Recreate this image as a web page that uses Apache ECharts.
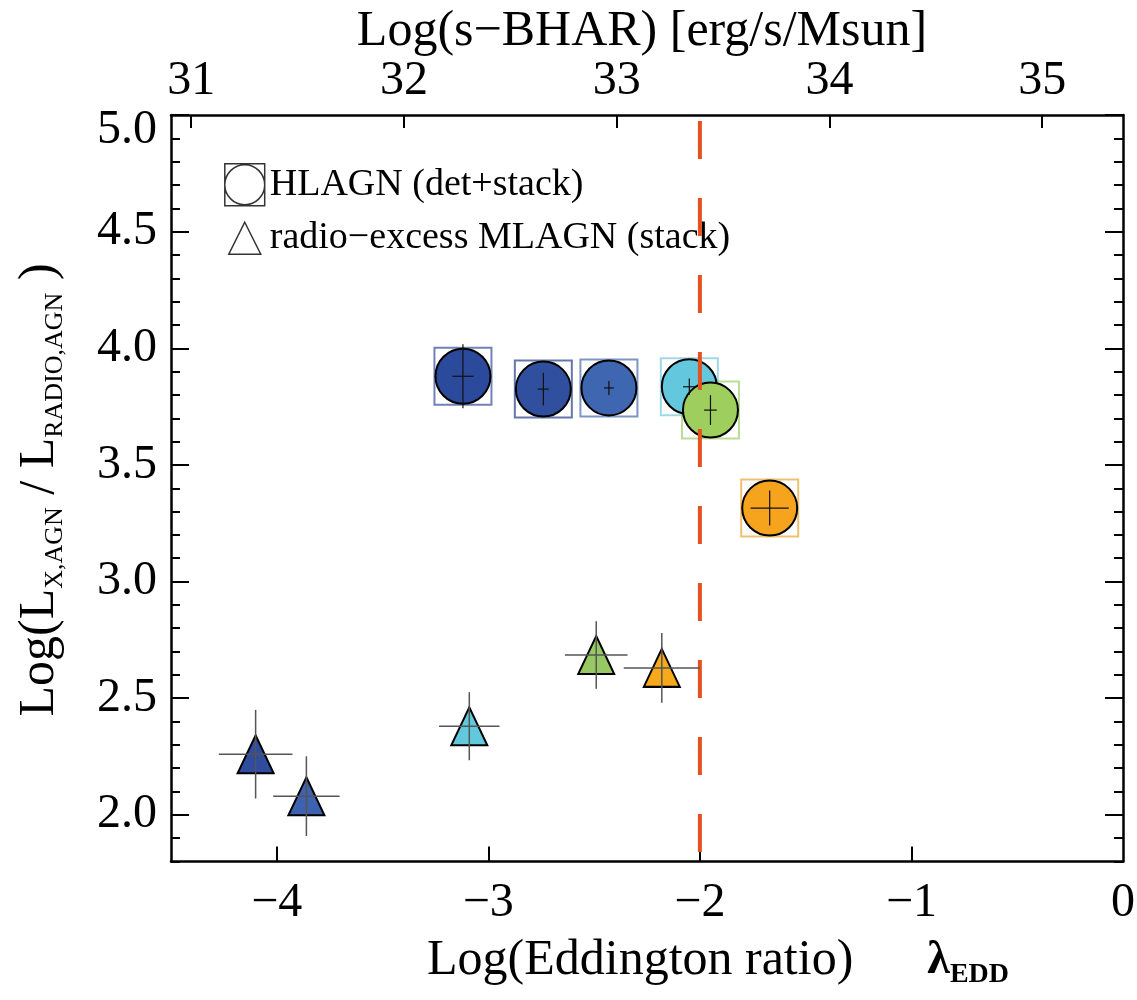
<!DOCTYPE html>
<html><head><meta charset="utf-8">
<script src="https://cdn.jsdelivr.net/npm/echarts@6/dist/echarts.min.js"></script>
<style>html,body{margin:0;padding:0;background:#fff}#c{width:1137px;height:1000px}</style>
</head><body><div id="c"></div><script>
const FONT = 'Liberation Serif';
// HLAGN (det+stack)
const hlagnLogEdd = [-3.12, -2.74, -2.43, -2.05, -1.95, -1.67];
const hlagnRatio  = [3.88, 3.825, 3.83, 3.835, 3.735, 3.315];
const hlagnErrX   = [0.05, 0.026, 0.023, 0.03, 0.03, 0.09];
const hlagnErrY   = [0.137, 0.07, 0.03, 0.035, 0.064, 0.075];
const hlagnFill   = ['#2c4a9c', '#30509f', '#3f67b1', '#63c7dd', '#9dce5e', '#f6a31d'];
const hlagnBox    = ['#4e62a2', '#3f5696', '#5b7cb6', '#86d0e2', '#a9d47c', '#eab24a'];
// radio-excess MLAGN (stack)
const mlagnLogEdd = [-4.10, -3.86, -3.09, -2.49, -2.18];
const mlagnRatio  = [2.26, 2.08, 2.38, 2.685, 2.63];
const mlagnErrX   = [0.174, 0.157, 0.143, 0.148, 0.18];
const mlagnErrY   = [0.19, 0.171, 0.146, 0.145, 0.149];
const mlagnFill   = ['#2f4c9e', '#3d62b0', '#62c8dc', '#96c964', '#f7a81b'];
// reference line
const eddLimit = -2;
// ticks
const xTickVals = [-4, -3, -2, -1];
const xLabelVals = [-4, -3, -2, -1, 0];
const topTickVals = [31, 32, 33, 34, 35];
const yTickVals = [2.0, 2.5, 3.0, 3.5, 4.0, 4.5, 5.0];

const HL_NAME = 'HLAGN (det+stack)';
const ML_NAME = 'radio\u2212excess MLAGN (stack)';
const black = '#000';
const lblStyle = {fontFamily: FONT, fontSize: 48, color: black};

function errRender(color, width) {
  return function (params, api) {
    const x = api.value(0), y = api.value(1), dx = api.value(2), dy = api.value(3);
    const a = api.coord([x - dx, y]), b = api.coord([x + dx, y]);
    const c = api.coord([x, y - dy]), d = api.coord([x, y + dy]);
    const st = {stroke: color, lineWidth: width};
    return {type: 'group', children: [
      {type: 'line', shape: {x1: a[0], y1: a[1], x2: b[0], y2: b[1]}, style: st},
      {type: 'line', shape: {x1: c[0], y1: c[1], x2: d[0], y2: d[1]}, style: st}
    ]};
  };
}

const chart = echarts.init(document.getElementById('c'), null, {renderer: 'canvas'});
const option = {
  animation: false,
  backgroundColor: '#fff',
  grid: {left: 171, right: 14, top: 115, bottom: 138.5, containLabel: false, outerBoundsMode: 'none'},
  xAxis: [
    {type: 'value', position: 'bottom', min: -4.5, max: 0,
      axisLine: {show: true, onZero: false, lineStyle: {color: black, width: 2.5}},
      axisTick: {show: true, inside: true, length: 15, customValues: xTickVals, lineStyle: {color: black, width: 2}},
      axisLabel: {show: true, customValues: xLabelVals, margin: 18, ...lblStyle,
        formatter: v => String(v).replace('-', '\u2212')},
      splitLine: {show: false}},
    {type: 'value', position: 'top', min: 30.905, max: 35.38,
      axisLine: {show: true, onZero: false, lineStyle: {color: black, width: 2.5}},
      axisTick: {show: true, inside: true, length: 13, customValues: topTickVals, lineStyle: {color: black, width: 2}},
      axisLabel: {show: true, customValues: topTickVals, margin: 10, ...lblStyle, formatter: v => String(v)},
      splitLine: {show: false}}
  ],
  yAxis: [
    {type: 'value', position: 'left', min: 1.8, max: 5.0,
      axisLine: {show: true, onZero: false, lineStyle: {color: black, width: 2.5}},
      axisTick: {show: true, inside: true, length: 18, customValues: yTickVals, lineStyle: {color: black, width: 2}},
      axisLabel: {show: true, customValues: yTickVals, margin: 14, ...lblStyle,
        formatter: v => (Math.abs(v - 5) < 1e-9 ? '{t|5.0}' : v.toFixed(1)),
        rich: {t: {fontFamily: FONT, fontSize: 48, color: black, padding: [30, 0, 0, 0]}}},
      splitLine: {show: false}},
    {type: 'value', position: 'left', min: 1.8, max: 5.0, interval: 0.1,
      axisLine: {show: false, onZero: false},
      axisTick: {show: true, inside: true, length: 9, lineStyle: {color: black, width: 2}},
      axisLabel: {show: false}, splitLine: {show: false}},
    {type: 'value', position: 'right', min: 1.8, max: 5.0,
      axisLine: {show: true, onZero: false, lineStyle: {color: black, width: 2.5}},
      axisTick: {show: true, inside: true, length: 18, customValues: yTickVals, lineStyle: {color: black, width: 2}},
      axisLabel: {show: false}, splitLine: {show: false}},
    {type: 'value', position: 'right', min: 1.8, max: 5.0, interval: 0.1,
      axisLine: {show: false, onZero: false},
      axisTick: {show: true, inside: true, length: 9, lineStyle: {color: black, width: 2}},
      axisLabel: {show: false}, splitLine: {show: false}}
  ],
  legend: {
    orient: 'vertical', left: 224, top: 163, itemWidth: 40, itemHeight: 42, itemGap: 10,
    selectedMode: false, padding: 0,
    textStyle: {fontFamily: FONT, fontSize: 38, color: black},
    data: [
      {name: HL_NAME, icon: 'path://M1,1H39V41H1Z M39,21A19,19 0 1 1 1,21A19,19 0 1 1 39,21Z',
        itemStyle: {color: 'rgba(0,0,0,0)', borderColor: black, borderWidth: 1.5}},
      {name: ML_NAME, icon: 'path://M0,0M40,42M20,5L36,37L4,37Z',
        itemStyle: {color: 'rgba(0,0,0,0)', borderColor: black, borderWidth: 1.5}}
    ]
  },
  graphic: [
    {type: 'text', x: 642, y: 32, silent: true,
      style: {text: 'Log(s\u2212BHAR) [erg/s/Msun]', fontFamily: FONT, fontSize: 50, fill: black,
        align: 'center', verticalAlign: 'middle', textAlign: 'center', textVerticalAlign: 'middle'}},
    {type: 'text', x: 427, y: 961, silent: true,
      style: {text: '{m|Log(Eddington ratio)}{l|\u03bb}{s|EDD}', fontFamily: FONT, fontSize: 50, fill: black,
        align: 'left', verticalAlign: 'middle', textAlign: 'left', textVerticalAlign: 'middle',
        rich: {
          m: {fontFamily: FONT, fontSize: 50, lineHeight: 56, fill: black, color: black},
          l: {fontFamily: FONT, fontSize: 46, fontWeight: 'bold', lineHeight: 56, padding: [0, 0, 0, 74], fill: black, color: black},
          s: {fontFamily: FONT, fontSize: 28, fontWeight: 'bold', lineHeight: 30, verticalAlign: 'bottom', fill: black, color: black}
        }}},
    {type: 'text', x: 40, y: 490, rotation: Math.PI / 2, silent: true,
      style: {text: '{m|Log(L}{s|X,AGN}{m| / L}{s|RADIO,AGN}{m| )}', fontFamily: FONT, fontSize: 50, fill: black,
        align: 'center', verticalAlign: 'middle', textAlign: 'center', textVerticalAlign: 'middle',
        rich: {
          m: {fontFamily: FONT, fontSize: 50, lineHeight: 56, fill: black, color: black},
          s: {fontFamily: FONT, fontSize: 26, lineHeight: 30, verticalAlign: 'bottom', fill: black, color: black}
        }}}
  ],
  series: [
    {type: 'scatter', name: 'HLAGN box', xAxisIndex: 0, yAxisIndex: 0, symbol: 'rect', symbolSize: 57, z: 2, silent: true,
      data: hlagnLogEdd.map((x, i) => ({value: [x, hlagnRatio[i]],
        itemStyle: {color: 'rgba(0,0,0,0)', borderColor: hlagnBox[i], borderWidth: 2}}))},
    {type: 'scatter', name: HL_NAME, xAxisIndex: 0, yAxisIndex: 0, symbol: 'circle', symbolSize: 55, z: 3, silent: true,
      data: hlagnLogEdd.map((x, i) => ({value: [x, hlagnRatio[i]],
        itemStyle: {color: hlagnFill[i], borderColor: black, borderWidth: 2, opacity: 1}}))},
    {type: 'scatter', name: ML_NAME, xAxisIndex: 0, yAxisIndex: 0, symbol: 'triangle', symbolSize: [36, 38], z: 3, silent: true,
      data: mlagnLogEdd.map((x, i) => ({value: [x, mlagnRatio[i]],
        itemStyle: {color: mlagnFill[i], borderColor: black, borderWidth: 2, opacity: 1}}))},
    {type: 'line', name: 'limit', xAxisIndex: 0, yAxisIndex: 0, symbol: 'none', z: 5, silent: true,
      data: [[eddLimit, 5.0], [eddLimit, 1.8]],
      lineStyle: {color: '#e4521f', width: 4, type: [38, 39], dashOffset: 71}},
    {type: 'custom', name: 'hlagn err', xAxisIndex: 0, yAxisIndex: 0, z: 6, silent: true,
      renderItem: errRender('#111', 1.2), encode: {x: 0, y: 1},
      data: hlagnLogEdd.map((x, i) => [x, hlagnRatio[i], hlagnErrX[i], hlagnErrY[i]])},
    {type: 'custom', name: 'mlagn err', xAxisIndex: 0, yAxisIndex: 0, z: 6, silent: true,
      renderItem: errRender('#555', 1.5), encode: {x: 0, y: 1},
      data: mlagnLogEdd.map((x, i) => [x, mlagnRatio[i], mlagnErrX[i], mlagnErrY[i]])}
  ]
};
chart.setOption(option);
</script></body></html>
